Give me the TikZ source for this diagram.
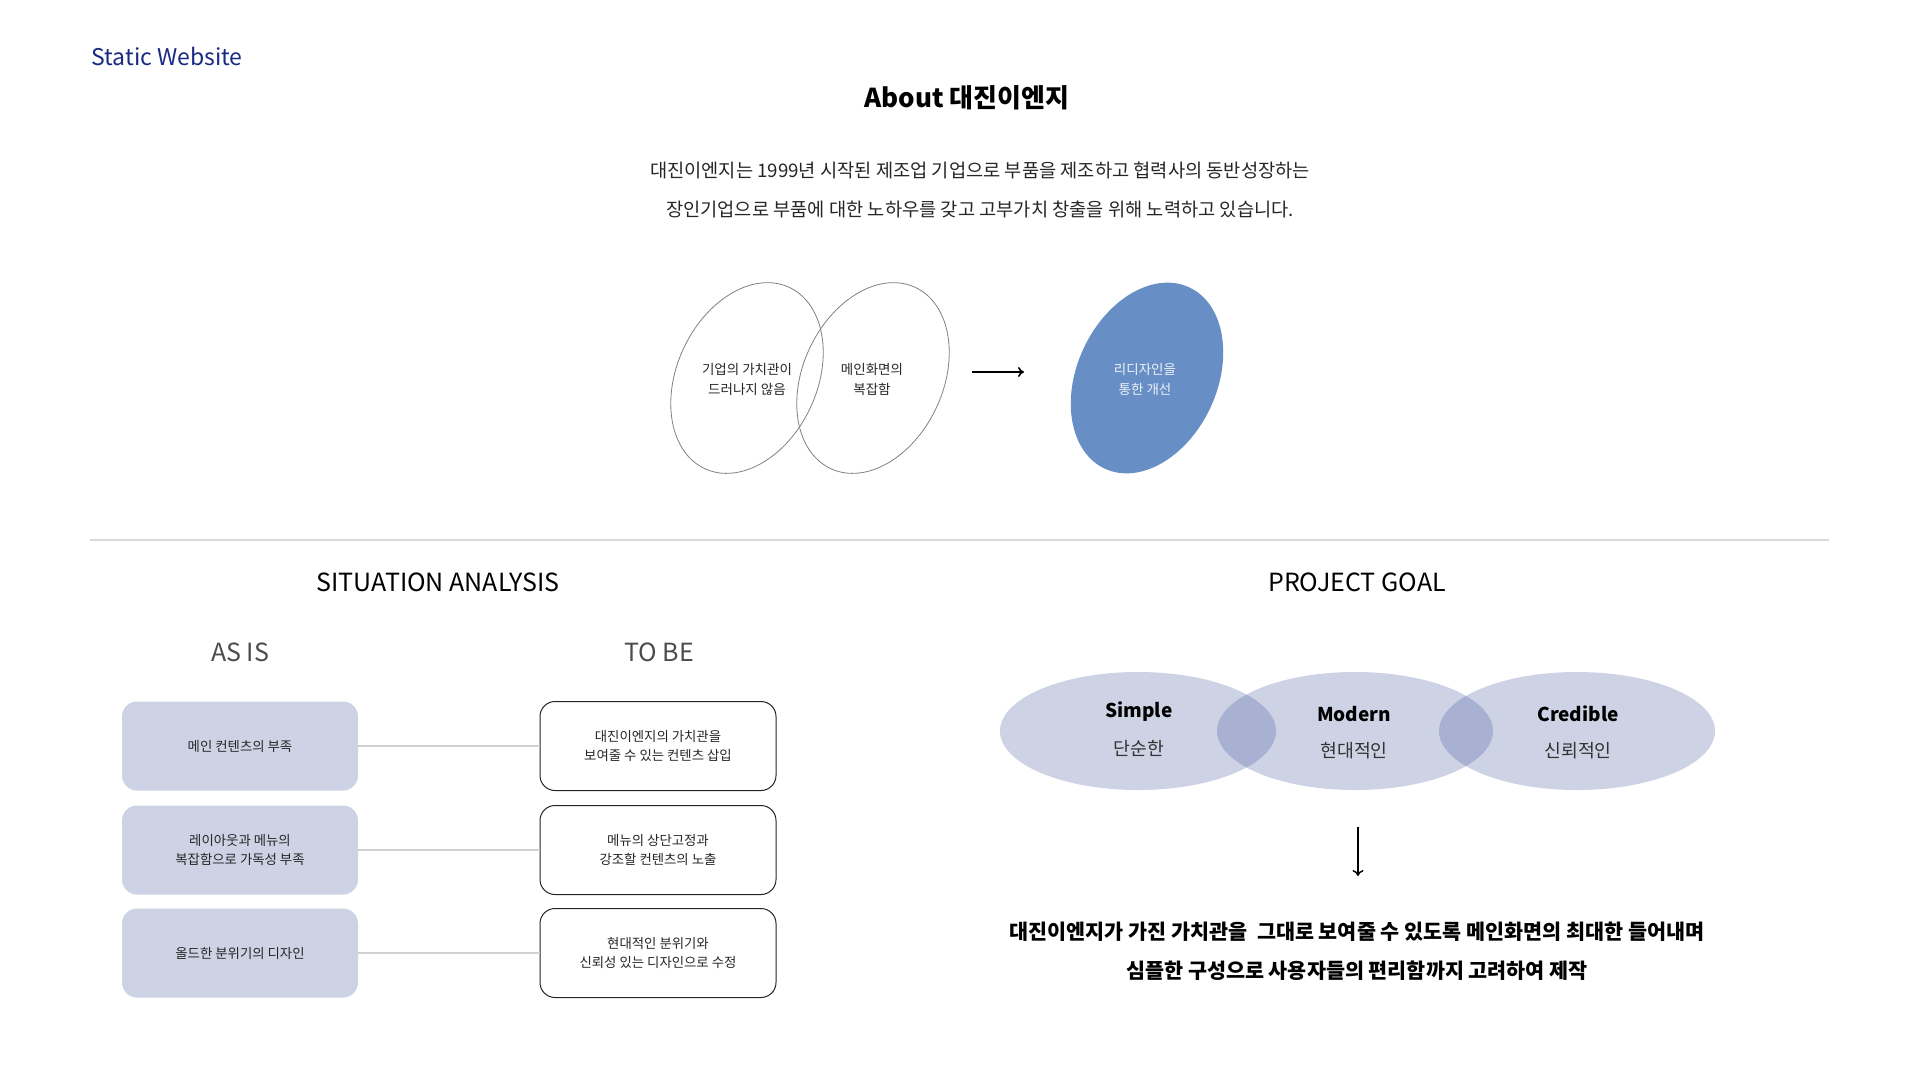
\documentclass[tikz,border=0pt]{standalone}
\usepackage{fontspec}
\setmainfont{Noto Sans CJK KR}
\usetikzlibrary{arrows.meta}
\definecolor{navy}{RGB}{24,42,130}
\definecolor{lavender}{RGB}{205,210,229}
\definecolor{goalink}{RGB}{63,82,155}
\definecolor{ovalblue}{RGB}{104,143,197}
\definecolor{rulegray}{RGB}{217,217,217}
\newcommand{\pxfont}[2]{\fontsize{#1}{#2}\selectfont}

\begin{document}
\begin{tikzpicture}[x=1pt,y=-1pt]
\tikzset{heading/.style={font=\pxfont{25}{29}},
	subhead/.style={font=\pxfont{25}{29}, text=black!70},
	para/.style={align=center, font=\pxfont{18.7}{39}, text=black!85},
	ovaltxt/.style={align=center, font=\pxfont{13.5}{20}, text=black!85},
	asisbox/.style={fill=lavender, rounded corners=15pt, minimum width=236pt, minimum height=89pt, align=center, font=\pxfont{13.4}{19.5}, text=black!85},
	tobebox/.style={asisbox, fill=white, draw=black!85, line width=1pt},
	link/.style={draw=black!18, line width=1.5pt},
	goal/.style={fill=goalink, fill opacity=0.26},
	goalword/.style={font=\pxfont{19}{23}\bfseries},
	goalkor/.style={font=\pxfont{18.3}{22}, text=black!80}}
\useasboundingbox (0,0) rectangle (1920,1080);

% header
\node[anchor=west, text=navy, font=\pxfont{23}{27}] (site) at (88,56) {Static Website};
\node[font=\pxfont{26}{30}\bfseries] (about) at (967,98) {About 대진이엔지};
\node[para] (intro) at (980,190) {대진이엔지는 1999년 시작된 제조업 기업으로 부품을 제조하고 협력사의 동반성장하는\\
장인기업으로 부품에 대한 노하우를 갖고 고부가치 창출을 위해 노력하고 있습니다.};

% before / after ovals
\draw[black!50, line width=0.8pt, rotate around={-25:(747,378)}] (747,378) ellipse [x radius=70, y radius=100];
\draw[black!50, line width=0.8pt, rotate around={-25:(873,378)}] (873,378) ellipse [x radius=70, y radius=100];
\fill[ovalblue, rotate around={-25:(1147,378)}] (1147,378) ellipse [x radius=70, y radius=100];
\node[ovaltxt] (ovalA) at (747,379) {기업의 가치관이\\드러나지 않음};
\node[ovaltxt] (ovalB) at (872,379) {메인화면의\\복잡함};
\node[ovaltxt, text=white!88!ovalblue] (ovalNew) at (1145,379) {리디자인을\\통한 개선};
\coordinate (arrS) at (972,372);
\coordinate (arrE) at (1024,372);
\draw[-{To[length=6pt, width=10pt]}, line width=1.6pt] (arrS) -- (arrE);

\draw[rulegray, line width=2pt] (90,540) -- (1829,540);

% situation analysis
\node[heading] (situation) at (438,582) {SITUATION ANALYSIS};
\node[subhead] (asis) at (240,652) {AS IS};
\node[subhead] (tobe) at (659,652) {TO BE};

\node[asisbox] (as1) at (240,746) {메인 컨텐츠의 부족};
\node[asisbox] (as2) at (240,850) {레이아웃과 메뉴의\\복잡함으로 가독성 부족};
\node[asisbox] (as3) at (240,953) {올드한 분위기의 디자인};
\node[tobebox] (to1) at (658,746) {대진이엔지의 가치관을\\보여줄 수 있는 컨텐츠 삽입};
\node[tobebox] (to2) at (658,850) {메뉴의 상단고정과\\강조할 컨텐츠의 노출};
\node[tobebox] (to3) at (658,953) {현대적인 분위기와\\신뢰성 있는 디자인으로 수정};
\foreach \i in {1,2,3}
	\draw[link] (as\i) -- (to\i);

% project goal
\node[heading] (project) at (1357,582) {PROJECT GOAL};
\fill[goal] (1138,731) ellipse [x radius=138, y radius=59];
\fill[goal] (1355,731) ellipse [x radius=138, y radius=59];
\fill[goal] (1577,731) ellipse [x radius=138, y radius=59];
\node[goalword] (simple) at (1139,712) {Simple};
\node[goalkor] (simpleK) at (1139,748) {단순한};
\node[goalword] (modern) at (1354,714) {Modern};
\node[goalkor] (modernK) at (1354,751) {현대적인};
\node[goalword] (credible) at (1578,714) {Credible};
\node[goalkor] (credibleK) at (1578,751) {신뢰적인};
\coordinate (downS) at (1358,827);
\coordinate (downE) at (1358,876);
\draw[-{To[length=6pt, width=11pt]}, line width=1.4pt] (downS) -- (downE);
\node[align=center, font=\pxfont{20.7}{39}\bfseries] (summary) at (1357,951) {대진이엔지가 가진 가치관을 \ 그대로 보여줄 수 있도록 메인화면의 최대한 들어내며\\
심플한 구성으로 사용자들의 편리함까지 고려하여 제작};

\end{tikzpicture}
\end{document}
